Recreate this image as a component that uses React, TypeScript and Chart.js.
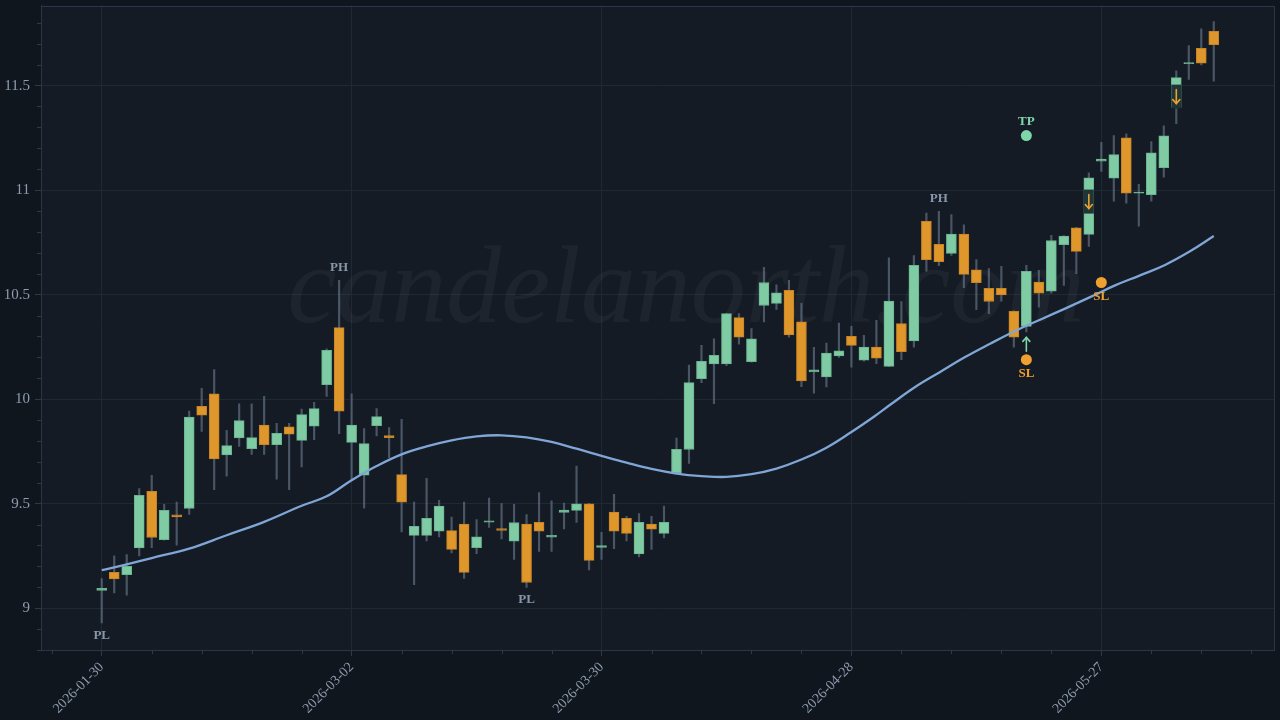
import React, { useEffect, useRef } from 'react';
import { Chart, registerables } from 'chart.js';

Chart.register(...registerables);

// ---- Candle data (trading-day index 0..89) ----
const OPEN = [
  9.085, 9.172, 9.160, 9.288, 9.559, 9.328, 9.447, 9.477, 9.966, 10.026,
  9.733, 9.814, 9.763, 9.876, 9.782, 9.867, 9.803, 9.871, 10.069, 10.342,
  9.793, 9.636, 9.873, 9.826, 9.639, 9.348, 9.348, 9.368, 9.371, 9.402,
  9.290, 9.411, 9.381, 9.320, 9.402, 9.411, 9.340, 9.458, 9.468, 9.499,
  9.291, 9.460, 9.430, 9.260, 9.402, 9.358, 9.647, 9.759, 10.098, 10.168,
  10.168, 10.390, 10.179, 10.448, 10.458, 10.520, 10.370, 10.130, 10.106, 10.207,
  10.300, 10.187, 10.249, 10.157, 10.361, 10.278, 10.850, 10.740, 10.697, 10.789,
  10.619, 10.530, 10.530, 10.420, 10.348, 10.560, 10.517, 10.739, 10.820, 10.788,
  11.138, 11.057, 11.250, 10.985, 10.978, 11.107, 11.395, 11.605, 11.678, 11.760,
];
const HIGH = [
  9.142, 9.250, 9.257, 9.572, 9.636, 9.497, 9.507, 9.943, 10.052, 10.141,
  9.851, 9.978, 9.978, 10.013, 9.884, 9.884, 9.953, 9.985, 10.241, 10.568,
  10.026, 9.859, 9.955, 9.864, 9.903, 9.508, 9.621, 9.516, 9.436, 9.508,
  9.424, 9.527, 9.500, 9.497, 9.448, 9.553, 9.513, 9.503, 9.680, 9.502,
  9.363, 9.545, 9.440, 9.453, 9.440, 9.488, 9.814, 10.163, 10.257, 10.289,
  10.410, 10.409, 10.337, 10.630, 10.547, 10.568, 10.458, 10.248, 10.268, 10.364,
  10.348, 10.305, 10.377, 10.676, 10.467, 10.687, 10.890, 10.898, 10.883, 10.834,
  10.668, 10.625, 10.635, 10.422, 10.640, 10.616, 10.783, 10.782, 10.822, 11.083,
  11.228, 11.261, 11.269, 11.027, 11.232, 11.307, 11.570, 11.691, 11.771, 11.806,
];
const LOW = [
  8.930, 9.073, 9.062, 9.250, 9.290, 9.325, 9.301, 9.449, 9.846, 9.567,
  9.631, 9.774, 9.736, 9.736, 9.617, 9.567, 9.676, 9.806, 10.013, 9.835,
  9.612, 9.479, 9.824, 9.720, 9.365, 9.113, 9.322, 9.341, 9.264, 9.142,
  9.261, 9.386, 9.331, 9.233, 9.099, 9.271, 9.272, 9.379, 9.410, 9.183,
  9.233, 9.285, 9.322, 9.245, 9.281, 9.336, 9.645, 9.692, 10.079, 9.978,
  10.160, 10.263, 10.177, 10.369, 10.429, 10.297, 10.060, 10.029, 10.058, 10.200,
  10.153, 10.182, 10.170, 10.155, 10.189, 10.249, 10.612, 10.638, 10.687, 10.533,
  10.428, 10.409, 10.469, 10.249, 10.321, 10.440, 10.507, 10.544, 10.600, 10.730,
  11.089, 10.947, 10.937, 10.827, 10.947, 11.062, 11.318, 11.529, 11.599, 11.521,
];
const CLOSE = [
  9.095, 9.140, 9.200, 9.540, 9.338, 9.468, 9.437, 9.914, 9.923, 9.714,
  9.778, 9.897, 9.816, 9.782, 9.836, 9.833, 9.926, 9.955, 10.233, 9.942,
  9.876, 9.787, 9.916, 9.816, 9.507, 9.392, 9.430, 9.489, 9.281, 9.171,
  9.341, 9.418, 9.372, 9.410, 9.123, 9.368, 9.349, 9.469, 9.499, 9.229,
  9.300, 9.368, 9.358, 9.411, 9.378, 9.411, 9.760, 10.079, 10.181, 10.209,
  10.409, 10.297, 10.289, 10.558, 10.509, 10.307, 10.087, 10.140, 10.220, 10.231,
  10.257, 10.249, 10.196, 10.469, 10.227, 10.640, 10.667, 10.657, 10.789, 10.597,
  10.557, 10.467, 10.498, 10.297, 10.611, 10.507, 10.759, 10.780, 10.707, 11.059,
  11.148, 11.170, 10.985, 10.991, 11.178, 11.259, 11.538, 11.610, 11.607, 11.696,
];

// ---- Smoothed average line ----
const MA_X = [
  0, 2, 4, 7, 10, 13, 16, 18, 20, 22, 24, 26, 28, 30, 32, 34, 36, 38, 40, 42,
  44, 46, 48, 50, 52, 54, 56, 58, 60, 61.8, 63.1, 65.1, 67.1, 69.1, 71.1,
  73.1, 75.1, 77.1, 79.1, 81.1, 83.1, 85.1, 87.1, 89,
];
const MA_Y = [
  9.182, 9.210, 9.240, 9.285, 9.349, 9.413, 9.490, 9.535, 9.612, 9.680,
  9.736, 9.774, 9.803, 9.822, 9.827, 9.817, 9.795, 9.763, 9.729, 9.696,
  9.666, 9.644, 9.632, 9.628, 9.641, 9.668, 9.711, 9.768, 9.843,
  9.916, 9.973, 10.058, 10.130, 10.201, 10.265, 10.326, 10.380, 10.433, 10.488,
  10.544, 10.592, 10.642, 10.707, 10.780,
];

// ---- Axis ticks ----
const X_TICKS = [0, 20, 40, 60, 80];
const X_TICK_LABELS = ['2026-01-30', '2026-03-02', '2026-03-30', '2026-04-28', '2026-05-27'];
const Y_TICKS = [9, 9.5, 10, 10.5, 11, 11.5];

// ---- Annotations ----
const PIVOT_INDEX = [0, 19, 34, 67];
const PIVOT_LABEL = ['PL', 'PH', 'PL', 'PH'];
const TP_INDEX = [74];
const TP_PRICE = [11.261];
const SL_INDEX = [74, 80];
const SL_PRICE = [10.189, 10.558];
const ARROW_INDEX = [74, 79, 86];
const ARROW_PRICE = [10.262, 10.945, 11.447];
const ARROW_DIR = ['up', 'down', 'down'];

const WATERMARK = 'candelanorth.com';

// ---- Styling ----
const PAGE_BG = '#10161e';
const PLOT_BG = '#141b24';
const GRID = '#1d2933';
const BORDER = '#283645';
const TICK = '#2c3b4a';
const TEXT = '#8d9cad';
const GREEN = '#7fcba4';
const GREEN_EDGE = '#6ab58f';
const ORANGE = '#df962b';
const ORANGE_EDGE = '#c78324';
const WICK = 'rgba(110,126,146,0.6)';
const MA_COLOR = '#7fa6d6';
const TP_COLOR = '#7fd6a8';
const SL_COLOR = '#f0a030';
const SERIF = '"Liberation Serif", serif';

const X_MIN = -4.86;
const X_MAX = 93.86;
const Y_MIN = 8.8;
const Y_MAX = 11.883;

const decorPlugin = {
  id: 'decor',
  beforeDraw(chart: any) {
    const { ctx, chartArea: a, width, height } = chart;
    ctx.save();
    ctx.fillStyle = PAGE_BG;
    ctx.fillRect(0, 0, width, height);
    ctx.fillStyle = PLOT_BG;
    ctx.fillRect(a.left, a.top, a.right - a.left, a.bottom - a.top);
    ctx.restore();
  },
  beforeDatasetsDraw(chart: any) {
    const { ctx, chartArea: a } = chart;
    ctx.save();
    ctx.beginPath();
    ctx.rect(a.left, a.top, a.right - a.left, a.bottom - a.top);
    ctx.clip();
    ctx.font = 'italic 110px ' + SERIF;
    ctx.fillStyle = 'rgba(255,255,255,0.045)';
    ctx.textAlign = 'center';
    ctx.textBaseline = 'alphabetic';
    ctx.fillText(WATERMARK, a.left + (a.right - a.left) * 0.523, a.top + (a.bottom - a.top) * 0.4915);
    ctx.restore();
  },
  afterDatasetsDraw(chart: any) {
    const { ctx } = chart;
    const xs = chart.scales.x;
    const ys = chart.scales.y;
    ctx.save();
    ctx.font = 'bold 13px ' + SERIF;
    ctx.textAlign = 'center';
    ctx.textBaseline = 'middle';
    ctx.fillStyle = '#8797a9';
    PIVOT_INDEX.forEach((idx, k) => {
      const lab = PIVOT_LABEL[k];
      const px = xs.getPixelForValue(idx);
      const py = lab === 'PH' ? ys.getPixelForValue(HIGH[idx]) - 13 : ys.getPixelForValue(LOW[idx]) + 12.5;
      ctx.fillText(lab, px, py);
    });
    ctx.fillStyle = TP_COLOR;
    TP_INDEX.forEach((idx, k) => {
      ctx.fillText('TP', xs.getPixelForValue(idx), ys.getPixelForValue(TP_PRICE[k]) - 14);
    });
    ctx.fillStyle = SL_COLOR;
    SL_INDEX.forEach((idx, k) => {
      ctx.fillText('SL', xs.getPixelForValue(idx), ys.getPixelForValue(SL_PRICE[k]) + 14);
    });
    ARROW_INDEX.forEach((idx, k) => {
      const px = xs.getPixelForValue(idx);
      const py = ys.getPixelForValue(ARROW_PRICE[k]);
      const up = ARROW_DIR[k] === 'up';
      if (!up) {
        ctx.fillStyle = 'rgba(26,44,48,0.95)';
        ctx.fillRect(px - 5, py - 12, 10, 24);
      }
      ctx.strokeStyle = up ? TP_COLOR : SL_COLOR;
      ctx.lineWidth = 1.6;
      ctx.lineCap = 'round';
      const h = 7;
      const tipY = up ? py - h : py + h;
      const tailY = up ? py + h : py - h;
      ctx.beginPath();
      ctx.moveTo(px, tailY);
      ctx.lineTo(px, tipY);
      ctx.stroke();
      const d = up ? 4 : -4;
      ctx.beginPath();
      ctx.moveTo(px - 3.5, tipY + d);
      ctx.lineTo(px, tipY);
      ctx.lineTo(px + 3.5, tipY + d);
      ctx.stroke();
    });
    ctx.restore();
  },
  afterDraw(chart: any) {
    const { ctx, chartArea: a } = chart;
    const xs = chart.scales.x;
    const ys = chart.scales.y;
    ctx.save();
    ctx.strokeStyle = BORDER;
    ctx.lineWidth = 1;
    ctx.strokeRect(Math.round(a.left) + 0.5, Math.round(a.top) + 0.5, Math.round(a.right - a.left) - 1, Math.round(a.bottom - a.top) - 1);
    ctx.strokeStyle = TICK;
    ctx.beginPath();
    for (let v = -4; v <= X_MAX; v += 4) {
      if (v % 20 === 0) continue;
      const px = Math.round(xs.getPixelForValue(v)) + 0.5;
      ctx.moveTo(px, a.bottom);
      ctx.lineTo(px, a.bottom + 4);
    }
    for (let n = 88; n <= 118; n++) {
      if (n % 5 === 0) continue;
      const py = Math.round(ys.getPixelForValue(n / 10)) + 0.5;
      ctx.moveTo(a.left - 4, py);
      ctx.lineTo(a.left, py);
    }
    ctx.stroke();
    ctx.restore();
  },
};

export default function App() {
  const ref = useRef<HTMLCanvasElement>(null);

  useEffect(() => {
    const canvas = ref.current;
    if (!canvas) return;
    const idx = OPEN.map((_, i) => i);
    const bodyData = idx.map((i) => ({ x: i, y: [OPEN[i], CLOSE[i]] }));
    const wickData = idx.map((i) => ({ x: i, y: [LOW[i], HIGH[i]] }));
    const up = idx.map((i) => CLOSE[i] >= OPEN[i]);
    const maData = MA_X.map((x, i) => ({ x, y: MA_Y[i] }));
    const markerData = [
      ...TP_INDEX.map((x, k) => ({ x, y: TP_PRICE[k] })),
      ...SL_INDEX.map((x, k) => ({ x, y: SL_PRICE[k] })),
    ];
    const markerColors = [...TP_INDEX.map(() => TP_COLOR), ...SL_INDEX.map(() => SL_COLOR)];

    const chart = new Chart(canvas, {
      type: 'bar',
      data: {
        datasets: [
          {
            type: 'scatter',
            data: markerData,
            pointRadius: 5.5,
            pointBackgroundColor: markerColors,
            pointBorderWidth: 0,
            order: 0,
          } as any,
          {
            type: 'line',
            data: maData,
            borderColor: MA_COLOR,
            borderWidth: 2.3,
            pointRadius: 0,
            tension: 0.4,
            fill: false,
            order: 1,
          } as any,
          {
            type: 'bar',
            data: bodyData,
            backgroundColor: up.map((u) => (u ? GREEN : ORANGE)),
            borderColor: up.map((u) => (u ? GREEN_EDGE : ORANGE_EDGE)),
            borderWidth: 1,
            borderSkipped: false,
            barThickness: 10,
            grouped: false,
            order: 2,
          } as any,
          {
            type: 'bar',
            data: wickData,
            backgroundColor: WICK,
            borderWidth: 0,
            barThickness: 1.5,
            grouped: false,
            order: 3,
          } as any,
        ],
      },
      options: {
        responsive: false,
        animation: false,
        events: [],
        layout: { padding: { top: 5, right: 4, left: 0, bottom: 0 } },
        plugins: { legend: { display: false }, tooltip: { enabled: false } },
        scales: {
          x: {
            type: 'linear',
            min: X_MIN,
            max: X_MAX,
            offset: false,
            afterBuildTicks: (s: any) => {
              s.ticks = X_TICKS.map((v) => ({ value: v }));
            },
            afterFit: (s: any) => {
              s.height = 70;
              s.paddingLeft = 0;
              s.paddingRight = 0;
            },
            ticks: {
              autoSkip: false,
              minRotation: 45,
              maxRotation: 45,
              padding: 3,
              color: TEXT,
              font: { family: SERIF, size: 14 },
              callback: (v: any) => {
                const k = X_TICKS.indexOf(Number(v));
                return k >= 0 ? X_TICK_LABELS[k] : '';
              },
            },
            grid: { color: GRID, tickColor: TICK, tickLength: 6, offset: false },
            border: { color: BORDER },
          },
          y: {
            type: 'linear',
            min: Y_MIN,
            max: Y_MAX,
            afterBuildTicks: (s: any) => {
              s.ticks = Y_TICKS.map((v) => ({ value: v }));
            },
            afterFit: (s: any) => {
              s.width = 41;
              s.paddingTop = 0;
              s.paddingBottom = 0;
            },
            ticks: {
              padding: 5,
              color: TEXT,
              font: { family: SERIF, size: 15 },
              callback: (v: any) => String(v),
            },
            grid: { color: GRID, tickColor: TICK, tickLength: 6 },
            border: { color: BORDER },
          },
        },
      } as any,
      plugins: [decorPlugin],
    });
    return () => chart.destroy();
  }, []);

  return (
    <div style={{ position: 'fixed', left: 0, top: 0, width: 1280, height: 720, background: PAGE_BG }}>
      <canvas ref={ref} width={1280} height={720} style={{ width: 1280, height: 720, display: 'block' }} />
    </div>
  );
}
